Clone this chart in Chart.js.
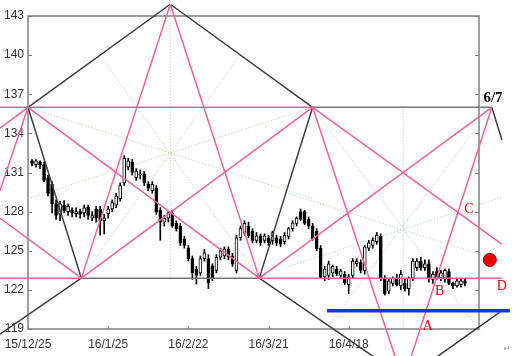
<!DOCTYPE html>
<html>
<head>
<meta charset="utf-8">
<script src="https://cdn.jsdelivr.net/npm/chart.js@4.4.1/dist/chart.umd.min.js"></script>
<style>
  html, body { margin: 0; padding: 0; background: #fff; }
  canvas { display: block; }
</style>
</head>
<body>
<canvas id="gannChart" width="515" height="356"></canvas>
<script>
// Tick labels on the date axis (one every 20 trading days)
const dateLabels = ['15/12/25', '16/1/25', '16/2/22', '16/3/21', '16/4/18', '16/5/16'];

// Daily candles, day 1 = first bar after 15/12/25
const opens = [131.9,131.6,131.8,131.6,130.6,130.1,128.6,127.8,128.5,128.0,
  128.1,127.85,128.0,127.9,128.35,127.5,128.2,128.2,127.3,127.85,
  128.2,128.5,129.0,130.2,131.4,131.8,130.6,130.8,130.9,130.1,
  129.6,129.8,128.1,127.2,127.5,127.9,127.1,126.9,125.9,125.2,
  124.4,123.6,123.3,124.4,124.4,123.85,123.5,124.5,124.6,125.1,
  124.6,123.5,126.0,126.4,126.9,126.5,125.8,126.15,125.8,126.0,
  125.8,126.0,125.9,125.7,126.1,126.7,127.1,128.0,128.0,127.4,
  126.9,126.5,125.2,123.0,123.1,123.3,123.6,123.1,123.2,122.4,
  123.1,124.0,124.1,123.5,125.2,125.4,125.7,126.1,122.9,121.9,
  122.5,122.9,122.3,122.5,122.1,122.9,123.7,124.2,123.7,124.0,
  122.8,123.4,122.9,122.9,123.4,122.5,122.3,122.4,122.7];
const highs = [132.0,132.0,131.9,131.8,130.8,130.3,128.9,128.8,128.85,128.6,
  128.3,128.3,128.2,128.5,128.5,128.0,128.4,128.4,127.8,128.4,
  128.9,129.4,130.2,132.3,132.1,132.0,131.3,131.2,131.1,130.3,
  130.3,130.0,128.3,127.7,128.0,128.1,127.3,127.1,126.1,125.4,
  124.6,123.8,124.6,125.1,124.7,124.0,124.7,125.2,125.3,125.3,
  124.8,126.2,126.9,127.3,127.2,126.7,126.4,126.3,126.3,126.2,
  126.5,126.2,126.1,126.4,126.8,127.3,127.6,128.2,128.1,127.6,
  127.1,126.7,125.4,123.8,124.2,123.9,123.8,123.6,123.4,123.2,
  124.4,124.4,124.3,125.4,125.8,126.0,126.4,126.3,123.1,122.9,
  123.0,123.2,123.5,122.8,123.0,124.4,124.4,124.5,124.3,124.3,
  123.4,123.7,123.5,123.6,123.6,122.6,122.9,122.8,122.8];
const lows = [131.5,131.4,131.3,130.3,129.2,127.9,127.4,127.3,127.9,127.7,
  127.6,127.6,127.5,127.6,127.4,127.3,127.2,126.2,126.3,127.5,
  128.0,128.3,128.8,130.0,131.2,130.8,130.4,130.5,130.0,129.6,
  129.4,127.8,125.8,126.9,127.2,126.8,126.5,125.4,125.2,124.2,
  122.8,122.45,123.1,124.2,122.1,122.7,123.3,124.3,124.4,124.3,
  123.8,123.3,125.8,126.2,126.0,125.6,125.6,125.4,125.6,125.4,
  125.5,125.4,125.3,125.5,125.9,126.5,126.9,127.3,127.0,126.7,
  125.8,125.0,122.9,122.7,122.8,123.0,123.1,122.9,122.4,121.7,
  122.9,123.8,123.3,123.2,125.0,125.2,125.5,122.7,121.6,121.7,
  122.3,122.3,122.0,121.9,121.6,122.7,123.5,123.5,123.5,122.6,
  122.5,122.8,122.7,122.6,122.4,122.1,122.2,122.2,122.3];
const closes = [131.7,131.9,131.6,130.4,129.4,128.6,127.7,128.6,128.1,128.4,
  127.9,128.0,127.8,128.3,127.7,127.7,127.5,127.3,127.5,128.2,
  128.7,129.2,130.0,132.1,131.9,131.0,131.1,130.9,130.2,129.8,
  130.1,127.95,127.2,127.5,127.9,126.9,126.7,125.6,125.4,124.4,
  123.3,123.1,124.4,124.85,122.55,122.9,124.5,125.0,125.15,124.5,
  124.0,126.0,126.7,127.1,126.15,125.8,126.15,125.6,126.15,125.6,
  126.4,125.6,125.5,126.2,126.7,127.15,127.5,127.4,127.1,126.9,
  125.9,125.15,122.95,123.6,124.0,123.8,123.25,123.45,122.55,123.0,
  124.2,124.2,123.5,125.3,125.6,125.8,126.2,122.85,121.7,122.7,
  122.9,122.4,123.2,122.1,122.9,124.2,124.2,123.7,124.0,122.85,
  123.2,122.9,123.3,123.5,122.5,122.3,122.7,122.7,122.5];

// Pivot points of the drawing [day, price]
const P1 = [0, 136.0];
const P2 = [35.5, 143.9];
const P3 = [71.0, 136.0];
const P4 = [115.7, 136.0];
const L1 = [13.3, 122.9];
const L2 = [57.7, 122.9];
const R0 = [93.6, 115.0];

// Pink fan lines
const pinkLines = [
  [[-7, 136.0], P3],
  [[-7, 122.9], L1],
  [L2, [118.2, 122.9]],
  [P2, L1], [P2, L2],
  [P1, L2], [P1, [-7, 134.4]], [P1, [-7, 129.6]],
  [L1, P3], [L1, [-7, 127.5]],
  [P3, R0], [P4, R0],
  [P3, [118.2, 125.5]],
  [L2, P4]
];

// Dark lines
const darkLines = [
  [P1, P2], [P2, P3], [P1, L1], [L1, [-7, 118.6]],
  [P3, L2], [L2, [88.0, 116.5]], [P4, [118.2, 133.5]],
  [[101.7, 116.8], [117.7, 120.3]]
];
const grayLines = [[L1, L2], [P3, P4]];

// Dotted green star lines
const starLines = [
  [[0, 136.0], [71, 129.0]], [[0, 129.0], [71, 136.0]],
  [L1, [52.9, 140.0]], [L2, [17.9, 140.0]],
  [[35.5, 143.9], [35.5, 122.9]],
  [P3, [113.0, 118.7]], [P4, [74.6, 119.1]],
  [[65.0, 129.4], [118.2, 124.2]], [[65.0, 123.8], [118.2, 129.1]],
  [[93.6, 136.0], [93.6, 118.9]]
];

// Support line
const blueLine = [[74.6, 120.4], [120.2, 120.4]];

// Annotations
const markText = ['A', 'B', 'C', 'D'];
const markAt = [[99.75, 119.2], [102.7, 121.9], [110.0, 128.15], [118.2, 122.3]];
const dateMark = '6/7';
const dateMarkAt = [116.0, 136.7];
const dotAt = [115.2, 124.3];

const days = opens.map((_, i) => i + 1);

function seg(a, b, color, width, dash, order) {
    return {
        type: 'line',
        data: [{ x: a[0], y: a[1] }, { x: b[0], y: b[1] }],
        borderColor: color,
        borderWidth: width,
        borderDash: dash || [],
        pointRadius: 0,
        fill: false,
        tension: 0,
        clip: false,
        order: order
    };
}

const datasets = [];
starLines.forEach(l => datasets.push(seg(l[0], l[1], '#a6d8a6', 1, [1, 2], 6)));
datasets.push({
    type: 'bar',
    data: days.map((d, i) => ({ x: d, y: [lows[i], highs[i]] })),
    backgroundColor: '#000',
    barThickness: 1,
    grouped: false,
    order: 5
});
datasets.push({
    type: 'bar',
    data: days.map((d, i) => ({ x: d, y: [opens[i], closes[i]] })),
    backgroundColor: days.map((d, i) => closes[i] >= opens[i] ? '#fff' : '#000'),
    borderColor: '#000',
    borderWidth: 1,
    borderSkipped: false,
    barThickness: 3,
    grouped: false,
    order: 4
});
grayLines.forEach(l => datasets.push(seg(l[0], l[1], '#747474', 1.5, null, 3)));
pinkLines.forEach(l => datasets.push(seg(l[0], l[1], '#f2609e', 1.5, null, 2)));
darkLines.forEach(l => datasets.push(seg(l[0], l[1], '#3c3c3c', 1.5, null, 2)));
datasets.push(seg(blueLine[0], blueLine[1], '#1432f5', 3.5, null, 1));

// Frame, inner ticks and text marks
const overlay = {
    id: 'overlay',
    beforeDatasetsDraw(chart) {
        const { ctx, chartArea: a, scales } = chart;
        ctx.save();
        ctx.strokeStyle = '#808080';
        ctx.lineWidth = 1.5;
        ctx.strokeRect(a.left, a.top, a.right - a.left, a.bottom - a.top);
        ctx.lineWidth = 1;
        scales.y.ticks.forEach(t => {
            const py = Math.round(scales.y.getPixelForValue(t.value)) + 0.5;
            ctx.beginPath();
            ctx.moveTo(a.left, py); ctx.lineTo(a.left + 4, py);
            ctx.moveTo(a.right, py); ctx.lineTo(a.right - 4, py);
            ctx.stroke();
        });
        scales.x.ticks.forEach(t => {
            if (t.value % 20 !== 0) return;
            const px = Math.round(scales.x.getPixelForValue(t.value)) + 0.5;
            ctx.beginPath();
            ctx.moveTo(px, a.bottom); ctx.lineTo(px, a.bottom - 3);
            ctx.stroke();
        });
        ctx.restore();
    },
    afterDraw(chart) {
        const { ctx, scales } = chart;
        const sx = v => scales.x.getPixelForValue(v);
        const sy = v => scales.y.getPixelForValue(v);
        ctx.save();
        ctx.textAlign = 'center';
        ctx.textBaseline = 'middle';
        ctx.fillStyle = '#ff0000';
        ctx.font = '14px "Liberation Serif", serif';
        markText.forEach((t, i) => ctx.fillText(t, sx(markAt[i][0]), sy(markAt[i][1])));
        ctx.fillStyle = '#000';
        ctx.font = 'bold 15px "Liberation Serif", serif';
        ctx.fillText(dateMark, sx(dateMarkAt[0]), sy(dateMarkAt[1]));
        ctx.beginPath();
        ctx.arc(sx(dotAt[0]), sy(dotAt[1]), 6.5, 0, Math.PI * 2);
        ctx.fillStyle = '#ee0000';
        ctx.fill();
        ctx.strokeStyle = '#900000';
        ctx.lineWidth = 1;
        ctx.stroke();
        ctx.fillStyle = '#999';
        ctx.font = '8px "DejaVu Sans", sans-serif';
        ctx.fillText('\u21b5', 507, 349);
        ctx.restore();
    }
};

const tickFont = { family: '"Liberation Sans", Arial, sans-serif', size: 12 };

new Chart(document.getElementById('gannChart'), {
    type: 'bar',
    data: { datasets: datasets },
    options: {
        responsive: false,
        devicePixelRatio: 1,
        animation: false,
        layout: { padding: { top: 16, right: 36, left: 0, bottom: 0 } },
        plugins: {
            legend: { display: false },
            tooltip: { enabled: false }
        },
        scales: {
            x: {
                type: 'linear',
                min: 0,
                max: 112.5,
                offset: false,
                grid: { display: false, drawTicks: false, offset: false },
                border: { display: false },
                ticks: {
                    stepSize: 20,
                    autoSkip: false,
                    maxRotation: 0,
                    padding: 8,
                    color: '#333',
                    font: tickFont,
                    callback: v => (v % 20 === 0 && dateLabels[v / 20]) || ''
                },
                afterFit: scale => {
                    scale.height = 27;
                    scale.paddingLeft = 0;
                    scale.paddingRight = 0;
                }
            },
            y: {
                min: 119,
                max: 143,
                grid: { display: false, drawTicks: false },
                border: { display: false },
                ticks: { stepSize: 3, padding: 4, color: '#333', font: tickFont },
                afterFit: scale => { scale.width = 28; }
            }
        }
    },
    plugins: [overlay]
});
</script>
</body>
</html>
